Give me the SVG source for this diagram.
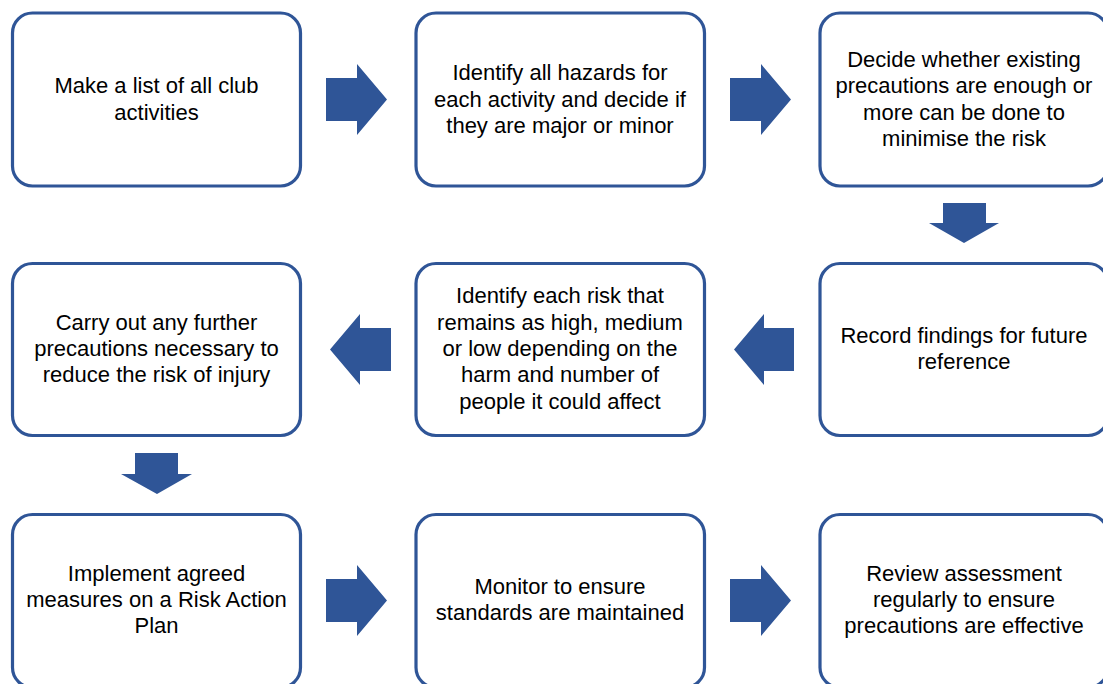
<svg xmlns="http://www.w3.org/2000/svg" width="1103" height="684" viewBox="0 0 1103 684">
<style>
.box{fill:#ffffff;stroke:#2f5597;stroke-width:3.2}
.arrow{fill:#2f5597;stroke:none}
text{font-family:"Liberation Sans",Arial,sans-serif;font-size:22px;fill:#000000;text-anchor:middle}
</style>
<rect width="1103" height="684" fill="#ffffff"/>
<g id="connectors">
<polygon class="arrow" points="326,78 357,78 357,64 387,99.5 357,135 357,121 326,121"/>
<polygon class="arrow" points="730,78 761,78 761,64 791,99.5 761,135 761,121 730,121"/>
<polygon class="arrow" points="943,203 986,203 986,223 999,223 964,243 929,223 943,223"/>
<polygon class="arrow" points="794,328 764,328 764,314 734,349.5 764,385 764,371 794,371"/>
<polygon class="arrow" points="391,328 360,328 360,314 330,349.5 360,385 360,371 391,371"/>
<polygon class="arrow" points="135,453 178,453 178,474 192,474 157,494 121,474 135,474"/>
<polygon class="arrow" points="326,579 357,579 357,565 387,600.5 357,636 357,622 326,622"/>
<polygon class="arrow" points="730,579 761,579 761,565 791,600.5 761,636 761,622 730,622"/>
</g>
<g id="node1">
<rect class="box" x="12.5" y="13" width="288" height="173" rx="20"/>
<text x="156.5" y="93.4">Make a list of all club</text>
<text x="156.5" y="119.6">activities</text>
</g>
<g id="node2">
<rect class="box" x="416" y="13" width="288.5" height="173" rx="20"/>
<text x="560" y="80.2">Identify all hazards for</text>
<text x="560" y="106.5">each activity and decide if</text>
<text x="560" y="132.8">they are major or minor</text>
</g>
<g id="node3">
<rect class="box" x="820" y="13" width="288" height="173" rx="20"/>
<text x="964" y="67">Decide whether existing</text>
<text x="964" y="93.4">precautions are enough or</text>
<text x="964" y="119.6">more can be done to</text>
<text x="964" y="146">minimise the risk</text>
</g>
<g id="node4">
<rect class="box" x="820" y="263.5" width="288" height="172" rx="20"/>
<text x="964" y="342.9">Record findings for future</text>
<text x="964" y="369.2">reference</text>
</g>
<g id="node5">
<rect class="box" x="416" y="263.5" width="288.5" height="172" rx="20"/>
<text x="560" y="303.4">Identify each risk that</text>
<text x="560" y="329.7">remains as high, medium</text>
<text x="560" y="356">or low depending on the</text>
<text x="560" y="382.3">harm and number of</text>
<text x="560" y="408.6">people it could affect</text>
</g>
<g id="node6">
<rect class="box" x="12.5" y="263.5" width="288" height="172" rx="20"/>
<text x="156.5" y="329.7">Carry out any further</text>
<text x="156.5" y="356">precautions necessary to</text>
<text x="156.5" y="382.3">reduce the risk of injury</text>
</g>
<g id="node7">
<rect class="box" x="12.5" y="514.5" width="288" height="173" rx="20"/>
<text x="156.5" y="580.7">Implement agreed</text>
<text x="156.5" y="607">measures on a Risk Action</text>
<text x="156.5" y="633.3">Plan</text>
</g>
<g id="node8">
<rect class="box" x="416" y="514.5" width="288.5" height="173" rx="20"/>
<text x="560" y="593.9">Monitor to ensure</text>
<text x="560" y="620.2">standards are maintained</text>
</g>
<g id="node9">
<rect class="box" x="820" y="514.5" width="288" height="173" rx="20"/>
<text x="964" y="580.7">Review assessment</text>
<text x="964" y="607">regularly to ensure</text>
<text x="964" y="633.3">precautions are effective</text>
</g>
</svg>
